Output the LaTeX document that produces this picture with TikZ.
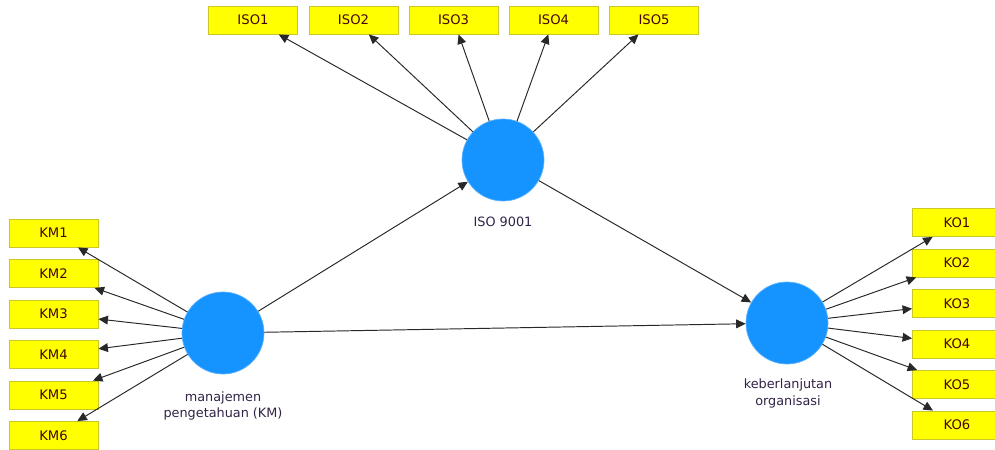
\documentclass[tikz,border=0pt]{standalone}
\usepackage{fontspec}
\setmainfont{DejaVu Sans}
\usetikzlibrary{arrows.meta}
\definecolor{boxfill}{RGB}{255,255,0}
\definecolor{boxline}{RGB}{200,200,40}
\definecolor{boxtext}{RGB}{70,5,5}
\definecolor{latent}{RGB}{21,147,255}
\definecolor{labtext}{RGB}{50,35,70}
\definecolor{arrowc}{RGB}{40,40,40}
\tikzset{
  indbox/.style={draw=boxline, line width=0.5pt, fill=boxfill, minimum width=1.78cm, minimum height=0.56cm, inner sep=0pt, text=boxtext, font=\fontsize{7.5}{8}\selectfont},
  latnode/.style={circle, fill=latent, draw=latent!70!white, line width=0.4pt, minimum size=1.64cm, inner sep=0pt},
  latlabel/.style={text=labtext, font=\fontsize{7.3}{9.6}\selectfont, align=center, inner sep=0pt},
  conn/.style={draw=arrowc, line width=0.55pt, -{Triangle[length=5.4pt,width=5pt]}}
}
\begin{document}
\begin{tikzpicture}[x=0.02cm,y=-0.02cm]
\useasboundingbox (0,0) rectangle (995,450);
\clip (0,0) rectangle (995,450);
% latent variables
\node[latnode] (iso) at (503,160) {};
\node[latnode] (km) at (223,333) {};
\node[latnode] (ko) at (787,323) {};
\node[latlabel] (isolab) at (503,222) {ISO 9001};
\node[latlabel] (kmlab) at (223,406) {manajemen\\pengetahuan (KM)};
\node[latlabel] (kolab) at (788,393.5) {keberlanjutan\\organisasi};
% ISO indicators
\node[indbox] (iso1) at (253,20) {ISO1};
\node[indbox] (iso2) at (353.5,20) {ISO2};
\node[indbox] (iso3) at (453.5,20) {ISO3};
\node[indbox] (iso4) at (553.5,20) {ISO4};
\node[indbox] (iso5) at (654,20) {ISO5};
% KM indicators
\node[indbox] (km1) at (53.5,233) {KM1};
\node[indbox] (km2) at (53.5,273.5) {KM2};
\node[indbox] (km3) at (53.5,314) {KM3};
\node[indbox] (km4) at (53.5,354.5) {KM4};
\node[indbox] (km5) at (53.5,395) {KM5};
\node[indbox] (km6) at (53.5,435.5) {KM6};
% KO indicators
\node[indbox] (ko1) at (957,222.5) {KO1};
\node[indbox] (ko2) at (957,263) {KO2};
\node[indbox] (ko3) at (957,303.5) {KO3};
\node[indbox] (ko4) at (957,344) {KO4};
\node[indbox] (ko5) at (957,384.5) {KO5};
\node[indbox] (ko6) at (957,425) {KO6};
% outer model arrows
\foreach \i in {1,...,5} \draw[conn] (iso) -- (iso\i);
\foreach \i in {1,...,6} \draw[conn] (km) -- (km\i);
\foreach \i in {1,...,6} \draw[conn] (ko) -- (ko\i);
% inner model arrows
\draw[conn] (km) -- (iso);
\draw[conn] (iso) -- (ko);
\draw[conn] (km) -- (ko);
\end{tikzpicture}
\end{document}
